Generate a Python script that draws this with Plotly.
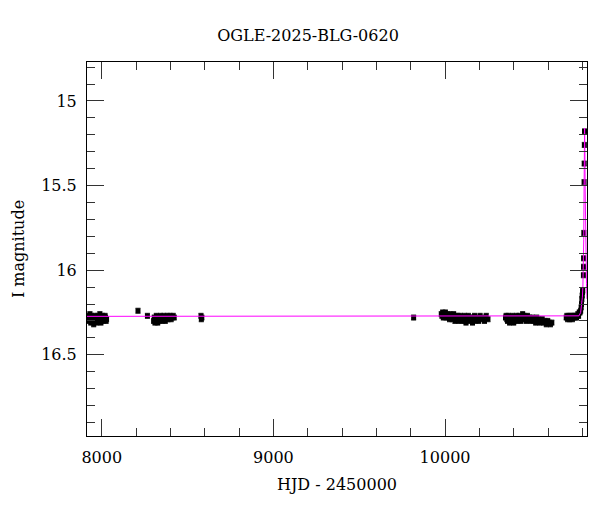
import plotly.graph_objects as go

# ---- data (HJD - 2450000, I mag) ----
season_2017 = [
    (7922, 16.27), (7925, 16.29), (7927, 16.30), (7929, 16.28), (7931, 16.26),
    (7934, 16.29), (7936, 16.31), (7938, 16.28), (7941, 16.27), (7943, 16.30),
    (7946, 16.29), (7948, 16.28), (7951, 16.30), (7953, 16.32), (7956, 16.29),
    (7959, 16.27), (7962, 16.28), (7965, 16.30), (7968, 16.29), (7971, 16.31),
    (7974, 16.28), (7977, 16.27), (7980, 16.29), (7983, 16.30), (7986, 16.28),
    (7989, 16.26), (7992, 16.29), (7995, 16.31), (7998, 16.30), (8001, 16.28),
    (8004, 16.27), (8007, 16.29), (8010, 16.30), (8013, 16.28), (8016, 16.29),
    (8019, 16.27), (8022, 16.28), (8025, 16.30), (8028, 16.29),
]
season_2018 = [
    (8211, 16.24), (8266, 16.27),
    (8302, 16.30), (8306, 16.28), (8310, 16.31), (8314, 16.29), (8318, 16.27),
    (8322, 16.30), (8326, 16.31), (8330, 16.28), (8334, 16.29), (8338, 16.30),
    (8342, 16.27), (8346, 16.29), (8350, 16.28), (8354, 16.30), (8358, 16.29),
    (8362, 16.27), (8366, 16.28), (8370, 16.30), (8374, 16.29), (8378, 16.28),
    (8382, 16.27), (8386, 16.29), (8392, 16.28), (8398, 16.27), (8404, 16.29),
    (8410, 16.28), (8416, 16.27), (8422, 16.28),
    (8578, 16.27), (8580, 16.29), (8583, 16.28),
]
season_2022 = [(9817, 16.28)]
season_2023 = [
    (9978, 16.26), (9982, 16.27), (9986, 16.25), (9990, 16.28), (9994, 16.26),
    (9998, 16.27), (10002, 16.25), (10006, 16.28), (10010, 16.27), (10014, 16.26),
    (10018, 16.28), (10022, 16.27), (10026, 16.29), (10030, 16.26), (10034, 16.28),
    (10038, 16.27), (10042, 16.29), (10046, 16.28), (10050, 16.26), (10054, 16.28),
    (10058, 16.30), (10062, 16.27), (10066, 16.28), (10070, 16.29), (10074, 16.27),
    (10078, 16.30), (10082, 16.28), (10086, 16.29), (10090, 16.27), (10094, 16.28),
    (10098, 16.30), (10102, 16.29), (10106, 16.28), (10110, 16.30), (10114, 16.27),
    (10118, 16.29), (10122, 16.31), (10126, 16.28), (10130, 16.29), (10136, 16.27),
    (10142, 16.30), (10148, 16.28), (10154, 16.29), (10160, 16.31), (10166, 16.28),
    (10172, 16.27), (10178, 16.30), (10184, 16.29), (10190, 16.28), (10196, 16.30),
    (10204, 16.27), (10212, 16.29), (10220, 16.28), (10230, 16.30), (10240, 16.27),
    (10250, 16.29),
]
season_2024 = [
    (10352, 16.28), (10356, 16.27), (10360, 16.29), (10364, 16.30), (10368, 16.27),
    (10372, 16.28), (10376, 16.31), (10380, 16.29), (10384, 16.28), (10388, 16.30),
    (10392, 16.27), (10396, 16.29), (10400, 16.31), (10404, 16.28), (10408, 16.30),
    (10412, 16.29), (10416, 16.27), (10420, 16.28), (10424, 16.30), (10428, 16.29),
    (10432, 16.27), (10436, 16.28), (10440, 16.30), (10444, 16.29), (10448, 16.28),
    (10452, 16.26), (10456, 16.28), (10460, 16.27), (10464, 16.29), (10468, 16.28),
    (10472, 16.30), (10476, 16.28), (10480, 16.27), (10486, 16.29), (10492, 16.28),
    (10498, 16.30), (10504, 16.29), (10510, 16.28), (10516, 16.30), (10522, 16.29),
    (10528, 16.31), (10534, 16.28), (10540, 16.30), (10546, 16.29), (10552, 16.31),
    (10558, 16.30), (10566, 16.29), (10574, 16.31), (10582, 16.30), (10590, 16.32),
    (10598, 16.30), (10606, 16.31), (10614, 16.32), (10622, 16.31),
]
season_2025 = [
    (10706, 16.28), (10710, 16.27), (10714, 16.29), (10718, 16.28), (10722, 16.27),
    (10726, 16.29), (10730, 16.28), (10734, 16.27), (10738, 16.28), (10742, 16.29),
    (10746, 16.27), (10750, 16.28), (10754, 16.27), (10758, 16.28), (10762, 16.27),
    (10766, 16.28), (10770, 16.27), (10774, 16.26), (10778, 16.27), (10782, 16.25),
    (10786, 16.25), (10790, 16.24), (10793, 16.22), (10795, 16.20), (10797, 16.17),
    (10799, 16.15), (10801, 16.13), (10802, 16.12),
    (10806, 16.03), (10806.5, 15.98), (10807, 15.93), (10808.5, 15.78),
    (10810, 15.48), (10810.7, 15.37), (10811.5, 15.26), (10812.5, 15.18),
]
mag_err = 0.015

# model curve
model_hjd = [7914, 10700, 10780, 10790, 10796, 10800, 10803, 10806, 10808,
             10810, 10811.5, 10813, 10814.5, 10816, 10818, 10821, 10824, 10827]
model_mag = [16.273, 16.273, 16.27, 16.25, 16.21, 16.16, 16.10, 16.00, 15.82,
             15.52, 15.30, 15.16, 15.28, 15.50, 15.75, 15.95, 16.08, 16.17]

title_text = "OGLE-2025-BLG-0620"
x_title = "HJD - 2450000"
y_title = "I magnitude"

all_pts = season_2017 + season_2018 + season_2022 + season_2023 + season_2024 + season_2025
hjd = [p[0] for p in all_pts]
mag = [p[1] for p in all_pts]

FONT = "DejaVu Serif"

fig = go.Figure()
fig.add_trace(go.Scatter(
    x=hjd, y=mag, mode="markers",
    marker=dict(symbol="square", size=5, color="black"),
    error_y=dict(type="constant", value=mag_err, color="#333", thickness=1, width=2.5),
    showlegend=False,
))
fig.add_trace(go.Scatter(
    x=model_hjd, y=model_mag, mode="lines",
    line=dict(color="#ff00ff", width=1),
    showlegend=False,
))

axis_common = dict(
    showline=True, linecolor="black", linewidth=1, mirror="allticks",
    ticks="inside", tickcolor="#333", tickwidth=1, ticklen=17,
    showgrid=False, zeroline=False, automargin=False,
    tickfont=dict(family=FONT, size=16, color="black"),
)
fig.update_xaxes(
    range=[7914, 10827], tick0=8000, dtick=1000, tickformat="d",
    minor=dict(ticks="inside", dtick=200, ticklen=8, tickcolor="#333", showgrid=False),
    ticklabelstandoff=7,
    title=dict(text=x_title, font=dict(family=FONT, size=16, color="black"), standoff=12),
    **axis_common,
)
fig.update_yaxes(
    range=[16.98, 14.77], tick0=15, dtick=0.5,
    minor=dict(ticks="inside", dtick=0.1, ticklen=8, tickcolor="#333", showgrid=False),
    ticklabelstandoff=6,
    title=dict(text=y_title, font=dict(family=FONT, size=16, color="black"), standoff=12),
    **axis_common,
)
fig.update_layout(
    width=600, height=512,
    margin=dict(l=79, r=21, t=54, b=84),
    paper_bgcolor="white", plot_bgcolor="white",
    title=dict(text=title_text, x=0.5, xanchor="center", y=1 - 27 / 512, yanchor="middle",
               font=dict(family=FONT, size=16, color="black")),
)
fig.write_html("out.html")
